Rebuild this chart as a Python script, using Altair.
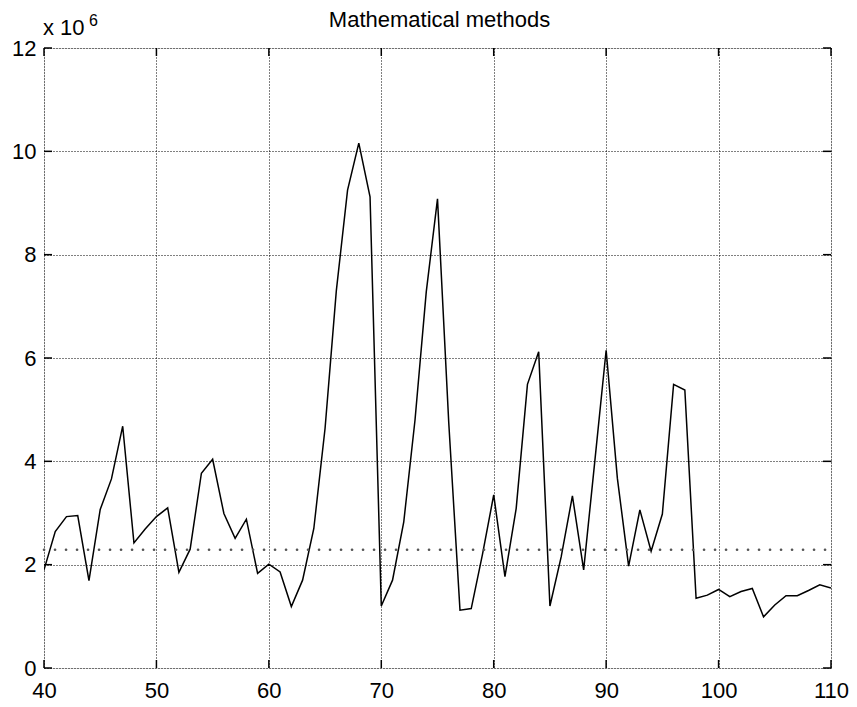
import altair as alt
import pandas as pd

# data (values in units of 10^6)
x_vals = list(range(40, 111))
y_vals = [1.90, 2.64, 2.93, 2.95, 1.69, 3.07, 3.66, 4.68, 2.42, 2.69,
          2.93, 3.10, 1.85, 2.30, 3.77, 4.04, 2.99, 2.51, 2.88, 1.83,
          2.01, 1.86, 1.19, 1.70, 2.70, 4.64, 7.30, 9.25, 10.16, 9.12,
          1.20, 1.70, 2.83, 4.80, 7.28, 9.08, 4.75, 1.12, 1.15, 2.20,
          3.35, 1.77, 3.09, 5.49, 6.12, 1.20, 2.15, 3.33, 1.90, 4.02,
          6.15, 3.67, 1.97, 3.06, 2.26, 2.98, 5.49, 5.38, 1.35, 1.41,
          1.52, 1.38, 1.48, 1.54, 0.99, 1.22, 1.40, 1.40, 1.50, 1.61,
          1.55]
ref_level = [2.29]
x_ticks = [40, 50, 60, 70, 80, 90, 100, 110]
y_ticks = [0, 2, 4, 6, 8, 10, 12]
title_text = ["Mathematical methods"]

W, H = 787, 620
FONT = "Liberation Sans"

df = pd.DataFrame({"x": x_vals, "y": y_vals})
ref_df = pd.DataFrame({"x": [x_vals[0]], "x2": [x_vals[-1]], "y": ref_level})
xt_df = pd.DataFrame({"t": x_ticks})
yt_df = pd.DataFrame({"t": y_ticks})

xscale = alt.Scale(domain=[40, 110], nice=False, zero=False)
yscale = alt.Scale(domain=[0, 12], nice=False, zero=False)

xaxis = alt.Axis(values=x_ticks, title=None, grid=True, gridColor="black",
                 gridDash=[1, 2], gridWidth=1, gridOpacity=1, tickSize=0,
                 domain=False, labelFont=FONT, labelFontSize=22,
                 labelColor="black", labelPadding=12, labelFlush=False)
yaxis = alt.Axis(values=y_ticks, title=None, grid=True, gridColor="black",
                 gridDash=[1, 2], gridWidth=1, gridOpacity=1, tickSize=0,
                 domain=False, labelFont=FONT, labelFontSize=22,
                 labelColor="black", labelPadding=8, labelFlush=False)

line = alt.Chart(df).mark_line(color="black", strokeWidth=1.5, clip=True).encode(
    x=alt.X("x:Q", scale=xscale, axis=xaxis),
    y=alt.Y("y:Q", scale=yscale, axis=yaxis),
)

ref = alt.Chart(ref_df).mark_rule(color="#555555", strokeWidth=2.6,
                                   strokeDash=[0.1, 10.9], strokeCap="round").encode(
    x=alt.X("x:Q", scale=xscale),
    x2="x2:Q",
    y=alt.Y("y:Q", scale=yscale),
)

tick_len = 8
bt = alt.Chart(xt_df).mark_rule(color="black", strokeWidth=1.5).encode(
    x=alt.X("t:Q", scale=xscale), y=alt.value(H), y2=alt.value(H - tick_len))
tt = alt.Chart(xt_df).mark_rule(color="black", strokeWidth=1.5).encode(
    x=alt.X("t:Q", scale=xscale), y=alt.value(0), y2=alt.value(tick_len))
lt = alt.Chart(yt_df).mark_rule(color="black", strokeWidth=1.5).encode(
    y=alt.Y("t:Q", scale=yscale), x=alt.value(0), x2=alt.value(tick_len))
rt = alt.Chart(yt_df).mark_rule(color="black", strokeWidth=1.5).encode(
    y=alt.Y("t:Q", scale=yscale), x=alt.value(W), x2=alt.value(W - tick_len))

title = alt.Chart(pd.DataFrame({"s": title_text})).mark_text(
    font=FONT, fontSize=22, align="center", baseline="alphabetic", color="black"
).encode(text="s:N", x=alt.value(W / 2 + 2), y=alt.value(-21))

mult = alt.Chart(pd.DataFrame({"s": ["x 10"]})).mark_text(
    font=FONT, fontSize=22, align="left", baseline="alphabetic", color="black"
).encode(text="s:N", x=alt.value(-1), y=alt.value(-13))
expo = alt.Chart(pd.DataFrame({"s": ["6"]})).mark_text(
    font=FONT, fontSize=16, align="left", baseline="alphabetic", color="black"
).encode(text="s:N", x=alt.value(45), y=alt.value(-22))

chart = alt.layer(line, ref, bt, tt, lt, rt, title, mult, expo).properties(
    width=W, height=H,
    autosize=alt.AutoSizeParams(type="none"),
    padding={"left": 44, "top": 48, "right": 26, "bottom": 39},
).configure_view(stroke="black", strokeWidth=1.5).configure(background="white")

chart.save("out.html", embed_options={"renderer": "svg", "actions": False})
